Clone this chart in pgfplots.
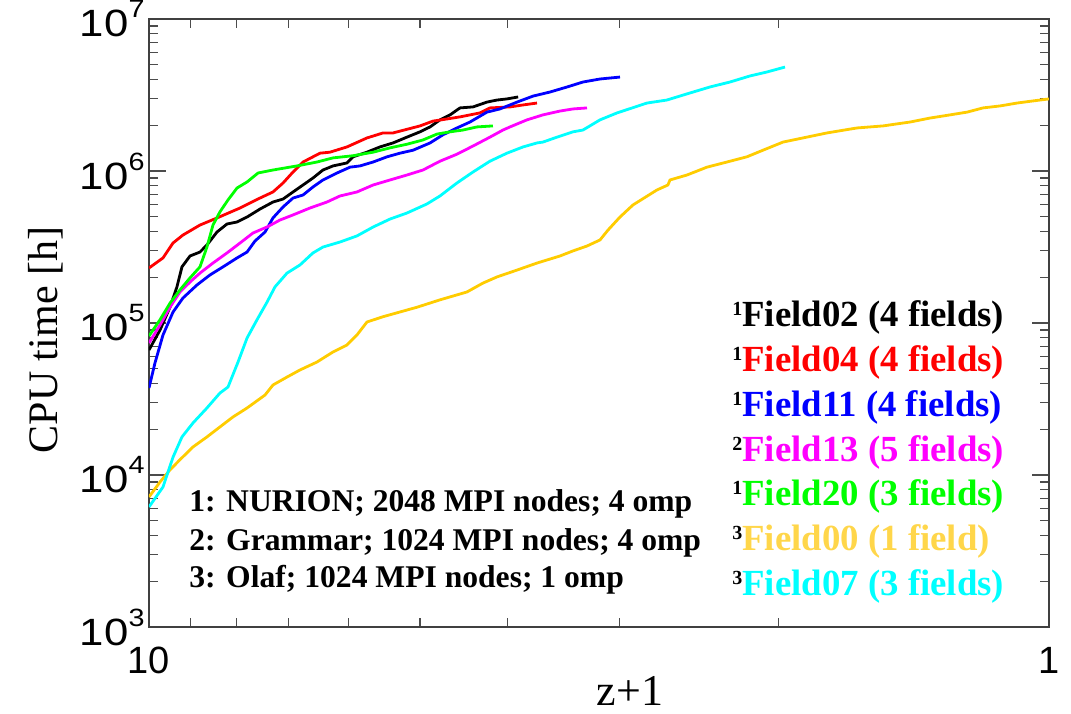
\documentclass[border=0pt]{standalone}
\usepackage{fontspec}
\setmainfont{Liberation Serif}
\newfontfamily\arial{Liberation Sans}
\usepackage{graphicx}
\usepackage{pgfplots}
\pgfplotsset{compat=1.18}
\definecolor{cgold}{RGB}{255,204,0}
\definecolor{cgoldtxt}{RGB}{255,214,74}
\definecolor{cgreen}{RGB}{0,255,0}
\definecolor{ccyan}{RGB}{0,255,255}
\definecolor{cmag}{RGB}{255,0,255}
\definecolor{cred}{RGB}{255,0,0}
\definecolor{cblue}{RGB}{0,0,255}
\newcommand{\tpow}[1]{\scalebox{1.15}[1]{10\raisebox{9.5pt}{\fontsize{12.5}{12.5}\selectfont #1}}}
\newcommand{\supn}[1]{\raisebox{5.5pt}{\fontsize{10}{10}\selectfont\bfseries\color{black}#1}}
\begin{document}
\begin{tikzpicture}
\useasboundingbox (-74.5pt,-43pt) rectangle (461pt,313.5pt);
\begin{axis}[
  scale only axis, width=450pt, height=304pt,
  xmode=log, ymode=log, x dir=reverse,
  xmin=1, xmax=10, ymin=1e3, ymax=1e7,
  xtick={1,10}, xticklabels={1,10},
  minor xtick={2,3,4,5,6,7,8,9},
  ytick={1e3,1e4,1e5,1e6,1e7},
  yticklabels={\tpow{3},\tpow{4},\tpow{5},\tpow{6},\tpow{7}},
  minor ytick={2e3,3e3,4e3,5e3,6e3,7e3,8e3,9e3,2e4,3e4,4e4,5e4,6e4,7e4,8e4,9e4,2e5,3e5,4e5,5e5,6e5,7e5,8e5,9e5,2e6,3e6,4e6,5e6,6e6,7e6,8e6,9e6},
  major tick length=8.5pt, minor tick length=4.5pt,
  axis line style={black!75,line width=0.8pt},
  tick style={black!70,line width=0.6pt},
  xticklabel style={font=\arial\fontsize{19}{19}\selectfont, inner sep=0pt, yshift=-10pt},
  yticklabel style={font=\arial\fontsize{19}{19}\selectfont, inner sep=0pt, xshift=-2pt},
  every axis plot/.append style={line width=1.4pt, line join=round, mark=none},
]
% Field02 (black)
\addplot[black] coordinates {(10,6.64e4) (9.722,8.99e4) (9.477,1.27e5) (9.309,1.73e5) (9.191,2.34e5) (9.004,2.76e5) (8.777,2.93e5) (8.622,3.26e5) (8.403,3.97e5) (8.191,4.48e5) (7.984,4.62e5) (7.782,4.98e5) (7.528,5.62e5) (7.282,6.25e5) (7.097,6.54e5) (6.918,7.28e5) (6.743,8.09e5) (6.574,8.99e5) (6.408,1.015e6) (6.245,1.08e6) (6.026,1.13e6) (5.934,1.24e6) (5.726,1.33e6) (5.538,1.44e6) (5.356,1.53e6) (5.169,1.67e6) (4.999,1.81e6) (4.872,1.95e6) (4.750,2.17e6) (4.629,2.34e6) (4.513,2.60e6) (4.365,2.64e6) (4.212,2.84e6) (4.105,2.93e6) (4.002,2.98e6) (3.890,3.07e6)};
% Field04 (red)
\addplot[cred] coordinates {(10,2.30e5) (9.648,2.68e5) (9.404,3.36e5) (9.168,3.79e5) (8.777,4.41e5) (8.403,4.91e5) (7.923,5.71e5) (7.528,6.64e5) (7.282,7.28e5) (7.097,8.34e5) (6.918,9.85e5) (6.743,1.146e6) (6.457,1.31e6) (6.294,1.33e6) (6.026,1.44e6) (5.726,1.65e6) (5.495,1.78e6) (5.356,1.78e6) (4.999,1.98e6) (4.835,2.13e6) (4.665,2.20e6) (4.513,2.27e6) (4.288,2.41e6) (4.180,2.60e6) (3.971,2.64e6) (3.841,2.72e6) (3.706,2.80e6)};
% Field11 (blue)
\addplot[cblue] coordinates {(10,3.74e4) (9.848,5.46e4) (9.648,8.34e4) (9.404,1.18e5) (9.168,1.46e5) (8.844,1.78e5) (8.556,2.07e5) (8.275,2.34e5) (7.984,2.68e5) (7.782,2.93e5) (7.626,3.46e5) (7.432,3.97e5) (7.282,4.91e5) (7.097,5.80e5) (6.918,6.64e5) (6.743,6.95e5) (6.574,7.85e5) (6.408,8.73e5) (6.182,9.70e5) (5.979,1.06e6) (5.829,1.08e6) (5.636,1.146e6) (5.438,1.24e6) (5.262,1.31e6) (5.089,1.37e6) (4.872,1.53e6) (4.714,1.73e6) (4.548,1.92e6) (4.399,2.10e6) (4.212,2.44e6) (4.074,2.56e6) (3.900,2.84e6) (3.744,3.11e6) (3.584,3.31e6) (3.432,3.57e6) (3.295,3.85e6) (3.154,4.03e6) (2.997,4.15e6)};
% Field13 (magenta)
\addplot[cmag] coordinates {(10,7.39e4) (9.722,9.70e4) (9.477,1.27e5) (9.239,1.60e5) (9.004,1.86e5) (8.777,2.13e5) (8.490,2.48e5) (8.191,2.89e5) (7.923,3.36e5) (7.665,3.91e5) (7.395,4.28e5) (7.152,4.76e5) (6.918,5.14e5) (6.624,5.71e5) (6.343,6.25e5) (6.135,6.85e5) (5.874,7.28e5) (5.636,8.09e5) (5.397,8.73e5) (5.169,9.41e5) (4.961,1.015e6) (4.750,1.16e6) (4.548,1.29e6) (4.365,1.46e6) (4.180,1.67e6) (4.043,1.86e6) (3.971,1.95e6) (3.802,2.17e6) (3.650,2.34e6) (3.494,2.48e6) (3.380,2.56e6) (3.261,2.60e6)};
% Field20 (green)
\addplot[cgreen] coordinates {(10,8.21e4) (9.722,1.05e5) (9.477,1.35e5) (9.239,1.65e5) (9.004,1.98e5) (8.777,2.34e5) (8.622,3.16e5) (8.490,4.41e5) (8.341,5.38e5) (8.170,6.45e5) (7.984,7.73e5) (7.782,8.47e5) (7.566,9.70e5) (7.282,1.015e6) (6.848,1.08e6) (6.506,1.146e6) (6.245,1.22e6) (5.934,1.26e6) (5.636,1.33e6) (5.397,1.42e6) (5.169,1.50e6) (4.961,1.60e6) (4.786,1.75e6) (4.629,1.81e6) (4.479,1.86e6) (4.321,1.95e6) (4.148,1.98e6)};
% Field00 (gold)
\addplot[cgold] coordinates {(10,7.17e3) (9.722,8.99e3) (9.477,1.08e4) (9.239,1.26e4) (8.935,1.53e4) (8.622,1.78e4) (8.341,2.07e4) (8.066,2.41e4) (7.782,2.76e4) (7.432,3.36e4) (7.282,3.91e4) (7.025,4.41e4) (6.795,4.91e4) (6.506,5.54e4) (6.245,6.45e4) (6.026,7.17e4) (5.874,8.34e4) (5.726,1.015e5) (5.495,1.10e5) (5.037,1.27e5) (4.750,1.42e5) (4.433,1.60e5) (4.256,1.83e5) (4.105,2.01e5) (3.900,2.23e5) (3.706,2.48e5) (3.494,2.76e5) (3.380,2.98e5) (3.261,3.21e5) (3.154,3.52e5) (3.090,4.09e5) (2.997,4.98e5) (2.899,5.98e5) (2.727,7.50e5) (2.651,8.09e5) (2.637,8.73e5) (2.525,9.41e5) (2.399,1.06e6) (2.279,1.146e6) (2.166,1.24e6) (2.079,1.37e6) (1.975,1.55e6) (1.905,1.62e6) (1.765,1.78e6) (1.634,1.92e6) (1.529,1.98e6) (1.427,2.10e6) (1.356,2.23e6) (1.288,2.34e6) (1.233,2.44e6) (1.184,2.60e6) (1.133,2.68e6) (1.085,2.80e6) (1.042,2.89e6) (1,2.98e6)};
% Field07 (cyan)
\addplot[ccyan] coordinates {(10,6.16e3) (9.648,8.34e3) (9.404,1.31e4) (9.191,1.78e4) (8.935,2.20e4) (8.622,2.76e4) (8.341,3.46e4) (8.170,3.79e4) (7.964,5.54e4) (7.782,7.97e4) (7.586,1.05e5) (7.395,1.37e5) (7.244,1.73e5) (7.025,2.13e5) (6.795,2.41e5) (6.574,2.89e5) (6.408,3.16e5) (6.135,3.41e5) (5.874,3.74e5) (5.636,4.28e5) (5.397,4.83e5) (5.169,5.29e5) (4.911,6.07e5) (4.750,6.85e5) (4.548,8.34e5) (4.365,9.85e5) (4.180,1.16e6) (4.002,1.31e6) (3.841,1.44e6) (3.706,1.53e6) (3.650,1.55e6) (3.521,1.67e6) (3.380,1.81e6) (3.295,1.86e6) (3.154,2.17e6) (3.020,2.41e6) (2.797,2.80e6) (2.658,2.93e6) (2.506,3.26e6) (2.381,3.57e6) (2.262,3.85e6) (2.149,4.22e6) (2.058,4.48e6) (1.965,4.83e6)};
\end{axis}
% axis labels
\node[rotate=90, font=\fontsize{21}{21}\selectfont] at (-51.5pt,143.5pt) {CPU time [h]};
\node[anchor=base, font=\fontsize{22}{22}\selectfont] at (240.5pt,-39pt) {z+1};
% right legend
\begin{scope}[every node/.style={anchor=base west, inner sep=0pt, font=\fontsize{18.4}{18.4}\selectfont\bfseries}]
\node[text=black]    at (291.5pt,150pt)   {\supn{1}Field02 (4 fields)};
\node[text=cred]     at (291.5pt,127.65pt){\supn{1}Field04 (4 fields)};
\node[text=cblue]    at (291.5pt,105.35pt){\supn{1}Field11 (4 fields)};
\node[text=cmag]     at (291.5pt,83pt)    {\supn{2}Field13 (5 fields)};
\node[text=cgreen]   at (291.5pt,60.65pt) {\supn{1}Field20 (3 fields)};
\node[text=cgoldtxt] at (291.5pt,38.35pt) {\supn{3}Field00 (1 field)};
\node[text=ccyan]    at (291.5pt,16pt)    {\supn{3}Field07 (3 fields)};
\end{scope}
% machine note
\begin{scope}[every node/.style={anchor=base west, inner sep=0pt, font=\fontsize{15.8}{15.8}\selectfont\bfseries}]
\node at (20pt,57.75pt) {1: NURION; 2048 MPI nodes; 4 omp};
\node at (20pt,38.5pt)  {2: Grammar; 1024 MPI nodes; 4 omp};
\node at (20pt,19.75pt) {3: Olaf; 1024 MPI nodes; 1 omp};
\end{scope}
\end{tikzpicture}
\end{document}
